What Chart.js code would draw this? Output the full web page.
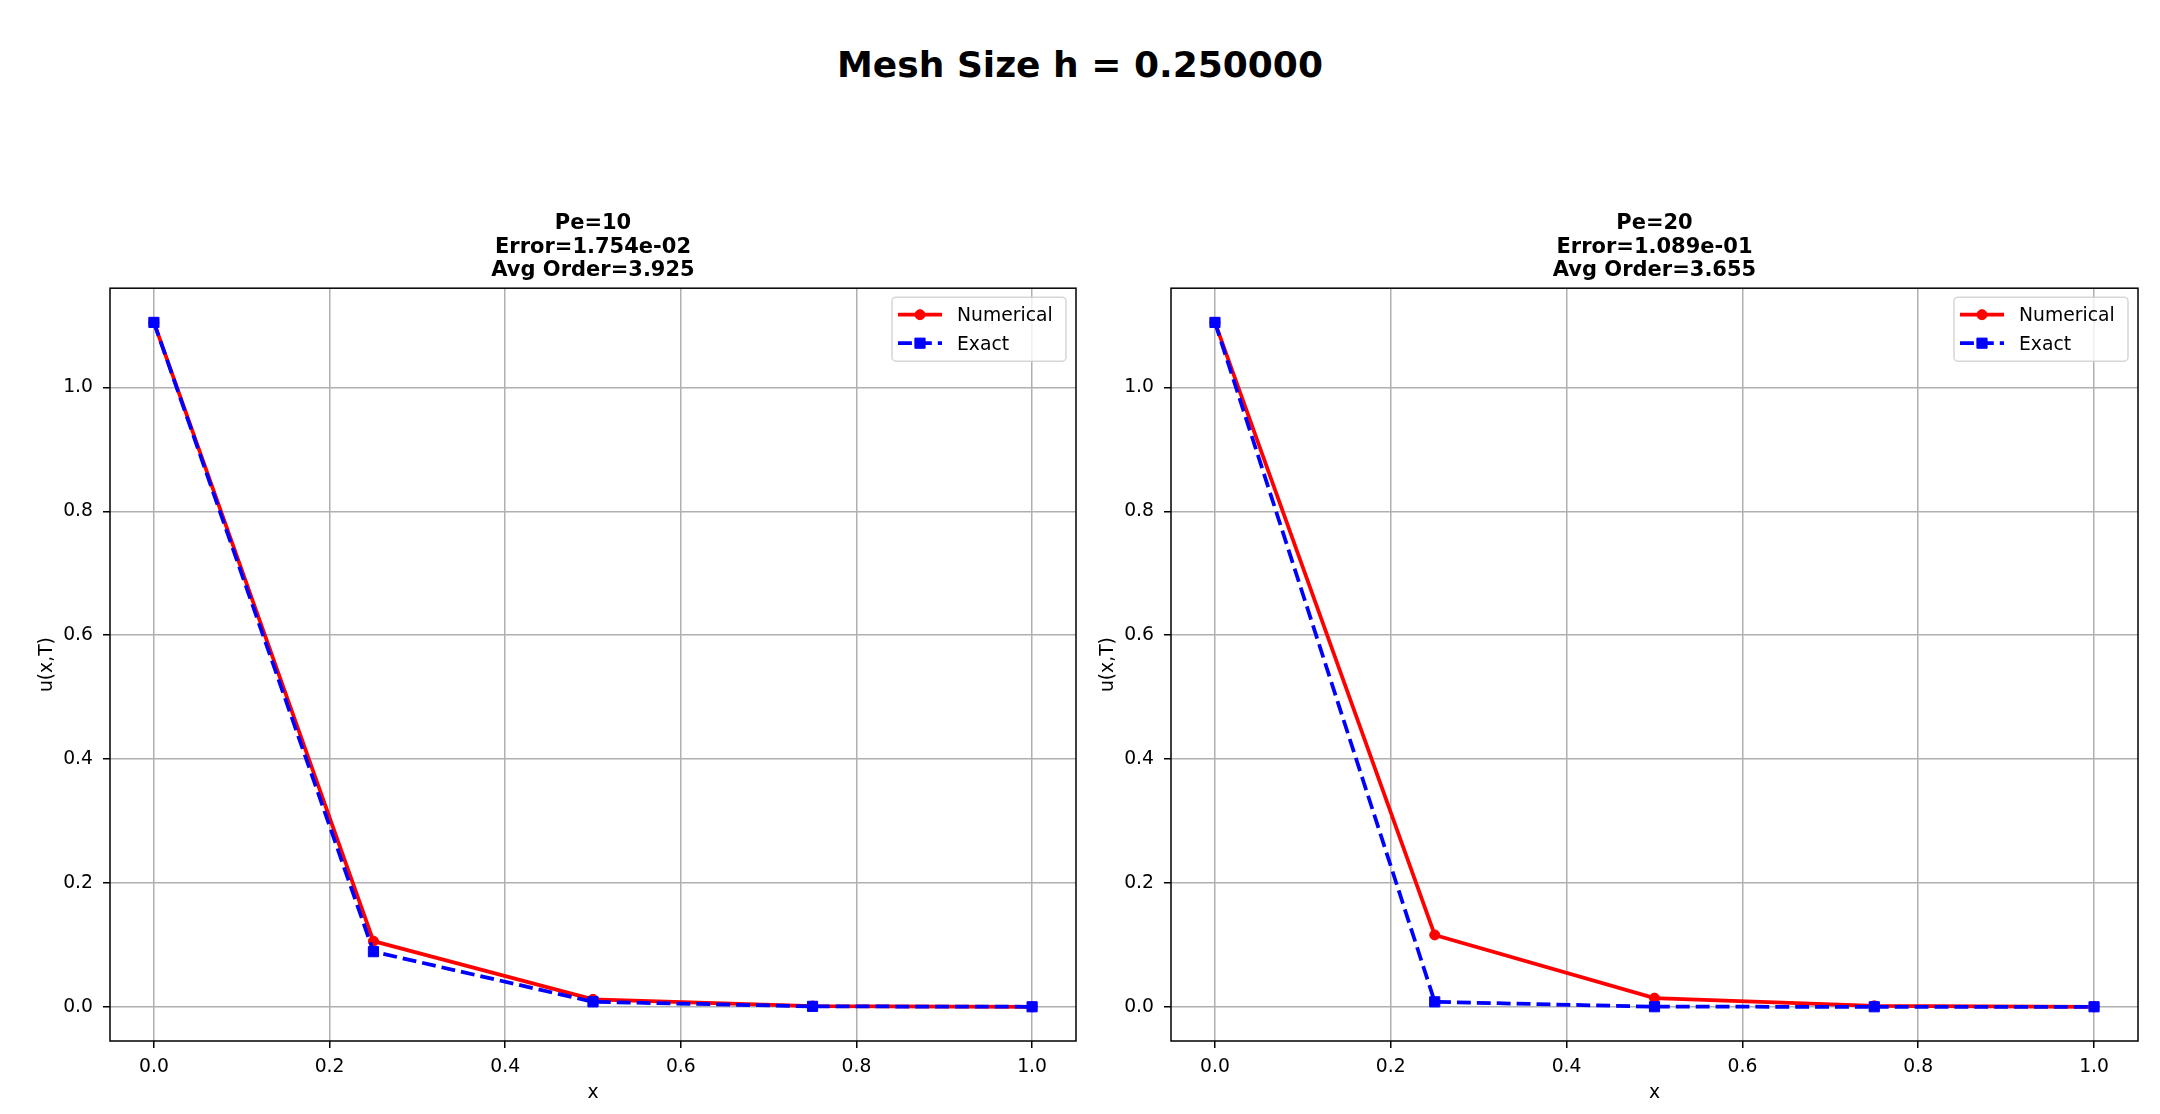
<!DOCTYPE html>
<html><head><meta charset="utf-8">
<script src="https://cdn.jsdelivr.net/npm/chart.js@4.4.1/dist/chart.umd.min.js"></script>
<style>
html,body{margin:0;padding:0;background:#fff;width:2160px;height:1114px;overflow:hidden;}
#sup{position:absolute;left:0;top:47px;width:2160px;text-align:center;font:bold 36px "DejaVu Sans";line-height:36px;color:#000;}
canvas{position:absolute;top:0;}
</style></head><body>
<div id="sup">Mesh Size h = 0.250000</div>
<canvas id="c1" width="1100" height="1114" style="left:0px"></canvas>
<canvas id="c2" width="1080" height="1114" style="left:1080px"></canvas>
<script>
// ---- data ----
const xValues = [0.0, 0.25, 0.5, 0.75, 1.0];
const pe10Numerical = [1.105, 0.106, 0.012, 0.0012, 0.0];
const pe10Exact     = [1.105, 0.089, 0.008, 0.0007, 0.0];
const pe20Numerical = [1.105, 0.116, 0.014, 0.0015, 0.0];
const pe20Exact     = [1.105, 0.008, 0.0001, 0.0, 0.0];
const xTickValues = [0.0, 0.2, 0.4, 0.6, 0.8, 1.0];
const yTickValues = [0.0, 0.2, 0.4, 0.6, 0.8, 1.0];
const seriesNames = ["Numerical", "Exact"];
const pe10Title = ["Pe=10", "Error=1.754e-02", "Avg Order=3.925"];
const pe20Title = ["Pe=20", "Error=1.089e-01", "Avg Order=3.655"];
const xLabel = "x";
const yLabel = "u(x,T)";

Chart.defaults.font.family = '"DejaVu Sans", sans-serif';
Chart.defaults.color = '#000';

const FONT = 18.75;

function toPoints(xs, ys){ return xs.map((x,i)=>({x:x, y:ys[i]})); }

const framePlugin = {
  id: 'frameAndLegend',
  afterDatasetsDraw(chart){
    const ctx = chart.ctx, ca = chart.chartArea;
    ctx.save();
    // spines
    ctx.strokeStyle = '#000';
    ctx.lineWidth = 1.5;
    ctx.strokeRect(ca.left, ca.top, ca.right - ca.left, ca.bottom - ca.top);
    // legend inside upper right
    const w = 174, h = 64;
    const bx = ca.right - 10 - w, by = ca.top + 9;
    const r = 4;
    ctx.beginPath();
    ctx.moveTo(bx + r, by);
    ctx.lineTo(bx + w - r, by); ctx.arcTo(bx + w, by, bx + w, by + r, r);
    ctx.lineTo(bx + w, by + h - r); ctx.arcTo(bx + w, by + h, bx + w - r, by + h, r);
    ctx.lineTo(bx + r, by + h); ctx.arcTo(bx, by + h, bx, by + h - r, r);
    ctx.lineTo(bx, by + r); ctx.arcTo(bx, by, bx + r, by, r);
    ctx.closePath();
    ctx.fillStyle = 'rgba(255,255,255,0.8)';
    ctx.fill();
    ctx.strokeStyle = 'rgba(204,204,204,0.8)';
    ctx.lineWidth = 1.5;
    ctx.stroke();
    chart.data.datasets.forEach((ds, i) => {
      const cy = by + 17.5 + i * 28.5;
      const x0 = bx + 6, x1 = bx + 50;
      ctx.save();
      ctx.strokeStyle = ds.borderColor;
      ctx.lineWidth = ds.borderWidth;
      ctx.setLineDash(ds.borderDash || []);
      ctx.beginPath(); ctx.moveTo(x0, cy); ctx.lineTo(x1, cy); ctx.stroke();
      ctx.setLineDash([]);
      ctx.fillStyle = ds.pointBackgroundColor;
      ctx.strokeStyle = ds.pointBorderColor;
      ctx.lineWidth = ds.pointBorderWidth;
      Chart.helpers.drawPoint(ctx, {pointStyle: ds.pointStyle, radius: ds.pointRadius, rotation: 0, borderWidth: ds.pointBorderWidth}, (x0 + x1) / 2, cy);
      ctx.restore();
      ctx.fillStyle = '#000';
      ctx.font = FONT + 'px "DejaVu Sans"';
      ctx.textBaseline = 'middle';
      ctx.textAlign = 'left';
      ctx.fillText(ds.label, bx + 65, cy + 1.5);
    });
    ctx.restore();
  }
};

function makeChart(id, numerical, exact, titleLines, yAxisWidth, yTitlePad, rightPad){
  const all = numerical.concat(exact);
  const dMin = Math.min(...all), dMax = Math.max(...all);
  const span = dMax - dMin;
  const yMin = dMin - 0.05 * span, yMax = dMax + 0.05 * span;
  const xs = Math.max(...xValues) - Math.min(...xValues);
  const xMin = Math.min(...xValues) - 0.05 * xs, xMax = Math.max(...xValues) + 0.05 * xs;
  return new Chart(document.getElementById(id), {
    type: 'line',
    data: {
      datasets: [
        {
          label: seriesNames[0], data: toPoints(xValues, numerical),
          borderColor: '#ff0000', backgroundColor: '#ff0000', borderWidth: 3.75,
          pointStyle: 'circle', pointRadius: 5, pointBorderWidth: 1,
          pointBackgroundColor: '#ff0000', pointBorderColor: '#ff0000',
          tension: 0, fill: false, order: 1
        },
        {
          label: seriesNames[1], data: toPoints(xValues, exact),
          borderColor: '#0000ff', backgroundColor: '#0000ff', borderWidth: 3.75,
          borderDash: [13.9, 6],
          pointStyle: 'rect', pointRadius: 7.2, pointBorderWidth: 1,
          pointBackgroundColor: '#0000ff', pointBorderColor: '#0000ff',
          tension: 0, fill: false, order: 0
        }
      ]
    },
    options: {
      responsive: false, animation: false, devicePixelRatio: 1,
      layout: { padding: { left: 0, right: rightPad, top: 0, bottom: 0 } },
      plugins: {
        legend: { display: false },
        tooltip: { enabled: false },
        title: {
          display: true, text: titleLines, fullSize: false,
          font: { size: 21, weight: 'bold', lineHeight: 1.13 },
          color: '#000',
          padding: { top: 211.5, bottom: 5.5 }
        }
      },
      scales: {
        x: {
          type: 'linear', min: xMin, max: xMax,
          afterBuildTicks: (s) => { s.ticks = xTickValues.map(v => ({value: v})); },
          afterFit: (s) => { s.height = 73; },
          ticks: { font: { size: FONT }, color: '#000', padding: 8, maxRotation: 0,
                   callback: (v) => Number(v).toFixed(1) },
          grid: { color: '#b0b0b0', lineWidth: 1.5, drawTicks: true, tickLength: 7, tickColor: '#000', tickWidth: 1.5 },
          border: { display: false },
          title: { display: true, text: xLabel, font: { size: FONT }, color: '#000', padding: { top: 0, bottom: 9.5 } }
        },
        y: {
          type: 'linear', min: yMin, max: yMax,
          afterBuildTicks: (s) => { s.ticks = yTickValues.map(v => ({value: v})); },
          afterFit: (s) => { s.width = yAxisWidth; },
          ticks: { font: { size: FONT }, color: '#000', padding: 10,
                   callback: (v) => Number(v).toFixed(1) },
          grid: { color: '#b0b0b0', lineWidth: 1.5, drawTicks: true, tickLength: 7, tickColor: '#000', tickWidth: 1.5 },
          border: { display: false },
          title: { display: true, text: yLabel, font: { size: FONT }, color: '#000', padding: { top: yTitlePad, bottom: 0 } }
        }
      }
    },
    plugins: [framePlugin]
  });
}

makeChart('c1', pe10Numerical, pe10Exact, pe10Title, 110, 35.5, 24);
makeChart('c2', pe20Numerical, pe20Exact, pe20Title, 91, 16.75, 22);
</script>
</body></html>
